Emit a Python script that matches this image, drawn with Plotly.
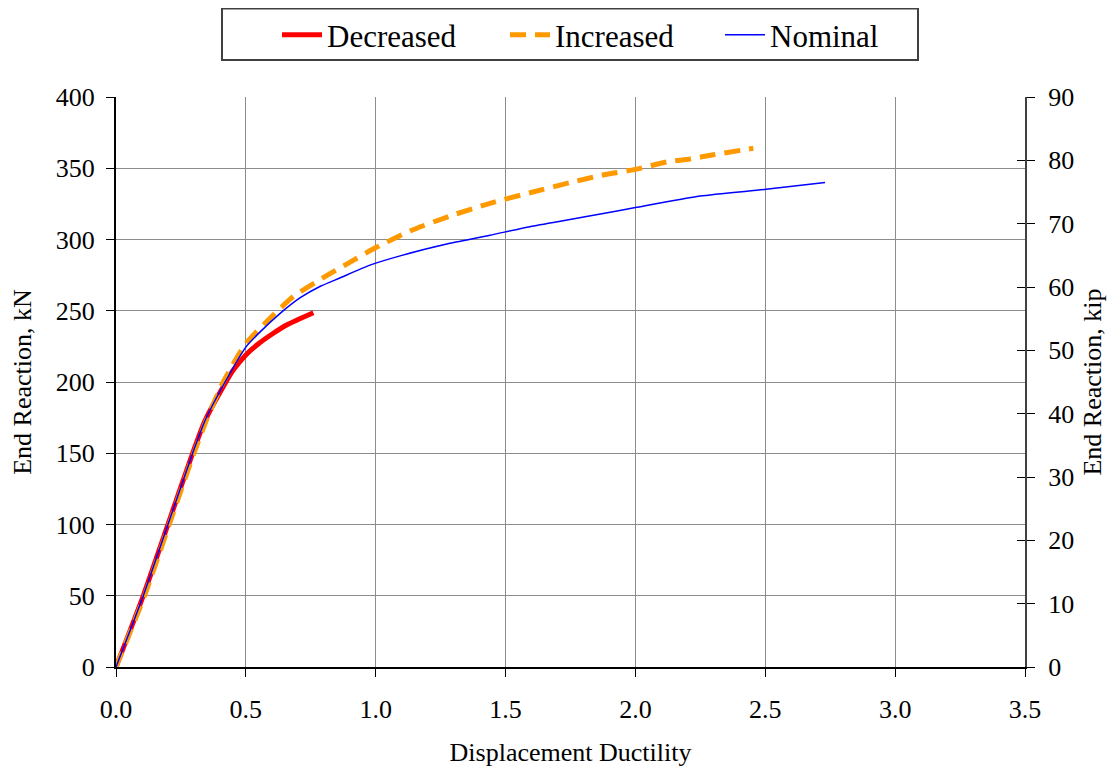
import plotly.graph_objects as go

# Data
dec_x = [0, 0.105, 0.2, 0.295, 0.343, 0.42, 0.45, 0.5, 0.55, 0.6, 0.657, 0.76]
dec_y = [0, 50, 100, 150, 173, 199, 208, 219, 227, 233.5, 240, 248.6]

inc_x = [0, 0.11, 0.205, 0.3, 0.35, 0.413, 0.5, 0.593, 0.683, 0.824, 0.9, 0.997,
         1.132, 1.286, 1.44, 1.594, 1.748, 1.876, 2.0, 2.12, 2.21, 2.3, 2.454]
inc_y = [0, 50, 100, 150, 174, 200, 227, 244.7, 260, 276, 284, 294,
         306, 316.5, 325.4, 332.8, 339.9, 345.3, 349.2, 354.4, 356.5, 359.5, 364]

nom_x = [0, 0.105, 0.2, 0.295, 0.343, 0.42, 0.5, 0.554, 0.631, 0.708, 0.785, 0.862,
         0.978, 1.094, 1.286, 1.44, 1.594, 1.748, 1.876, 2.0, 2.249, 2.503, 2.73]
nom_y = [0, 50, 100, 150, 173, 200, 224.5, 235, 248, 259, 267, 273,
         282, 288.5, 297.3, 303, 309, 314, 318.2, 322.4, 330.5, 335.2, 340]

x_ticks = [0, 0.5, 1.0, 1.5, 2.0, 2.5, 3.0, 3.5]
kn_ticks = list(range(0, 401, 50))
kip_ticks = list(range(0, 91, 10))

FONT = "Liberation Serif"
W, H = 1110, 760          # page has an 8px body margin
L, R, T, B = 108, 93, 89, 101
PW, PH = W - L - R, H - T - B

fig = go.Figure()
fig.add_trace(go.Scatter(x=dec_x, y=dec_y, name="Decreased", mode="lines", legend="legend",
                         line=dict(color="#ff0000", width=5, shape="spline", smoothing=0.6)))
fig.add_trace(go.Scatter(x=inc_x, y=inc_y, name="Increased", mode="lines", legend="legend2",
                         line=dict(color="#ff9900", width=5, dash="16px,9px",
                                   shape="spline", smoothing=0.6)))
fig.add_trace(go.Scatter(x=nom_x, y=nom_y, name="Nominal", mode="lines", legend="legend3",
                         line=dict(color="#0000ff", width=1.5, shape="spline", smoothing=0.6)))
# invisible traces to activate the right axes
fig.add_trace(go.Scatter(x=[0], y=[0], yaxis="y2", mode="lines", showlegend=False,
                         line=dict(color="rgba(0,0,0,0)"), hoverinfo="skip"))
fig.add_trace(go.Scatter(x=[0], y=[0], yaxis="y3", mode="lines", showlegend=False,
                         line=dict(color="rgba(0,0,0,0)"), hoverinfo="skip"))


def px(fx):
    return (fx - L) / PW


def py(fy):
    return (H - B - fy) / PH


# legend frame
fig.add_shape(type="rect", xref="paper", yref="paper",
              x0=px(214), x1=px(910), y0=py(52), y1=py(0.5),
              line=dict(color="#404040", width=2), fillcolor="rgba(0,0,0,0)", layer="above")

leg_common = dict(orientation="h", xanchor="left", xref="container", yref="container",
                  y=1.0, yanchor="top", borderwidth=0, bgcolor="rgba(0,0,0,0)",
                  font=dict(family=FONT, size=31), itemwidth=40)

fig.update_layout(
    width=W, height=H,
    margin=dict(l=L, r=R, t=T, b=B, autoexpand=False),
    paper_bgcolor="white", plot_bgcolor="white",
    font=dict(family=FONT, size=26, color="black"),
    xaxis=dict(range=[0, 3.5], tickvals=x_ticks, ticktext=[f"{v:.1f}" for v in x_ticks],
               showgrid=True, gridcolor="#8c8c8c", gridwidth=1,
               showline=True, linecolor="black", linewidth=2,
               ticks="outside", ticklen=8, tickcolor="black", ticklabelstandoff=10,
               title=dict(text="Displacement Ductility", standoff=20, font=dict(size=26)),
               zeroline=False, automargin=False),
    yaxis=dict(range=[0, 400], tickvals=kn_ticks,
               showgrid=True, gridcolor="#8c8c8c", gridwidth=1,
               showline=True, linecolor="black", linewidth=2,
               ticks="outside", ticklen=8, tickcolor="black", ticklabelstandoff=6,
               title=dict(text="End Reaction, kN", standoff=20, font=dict(size=26)),
               zeroline=False, automargin=False),
    yaxis2=dict(range=[0, 90], tickvals=kip_ticks, overlaying="y", side="right",
                showgrid=False, showline=True, linecolor="#404040", linewidth=2,
                ticks="outside", ticklen=8, tickcolor="black", ticklabelstandoff=8,
                title=dict(text="End Reaction, kip", standoff=10, font=dict(size=26)),
                zeroline=False, automargin=False),
    yaxis3=dict(range=[0, 90], tickvals=kip_ticks, overlaying="y", side="right",
                showgrid=False, showline=False, showticklabels=False,
                ticks="inside", ticklen=8, tickcolor="black",
                zeroline=False, automargin=False),
    legend=dict(x=269 / W, **leg_common),
    legend2=dict(x=497 / W, **leg_common),
    legend3=dict(x=712 / W, **leg_common),
    showlegend=True,
)

fig.write_html("out.html")
